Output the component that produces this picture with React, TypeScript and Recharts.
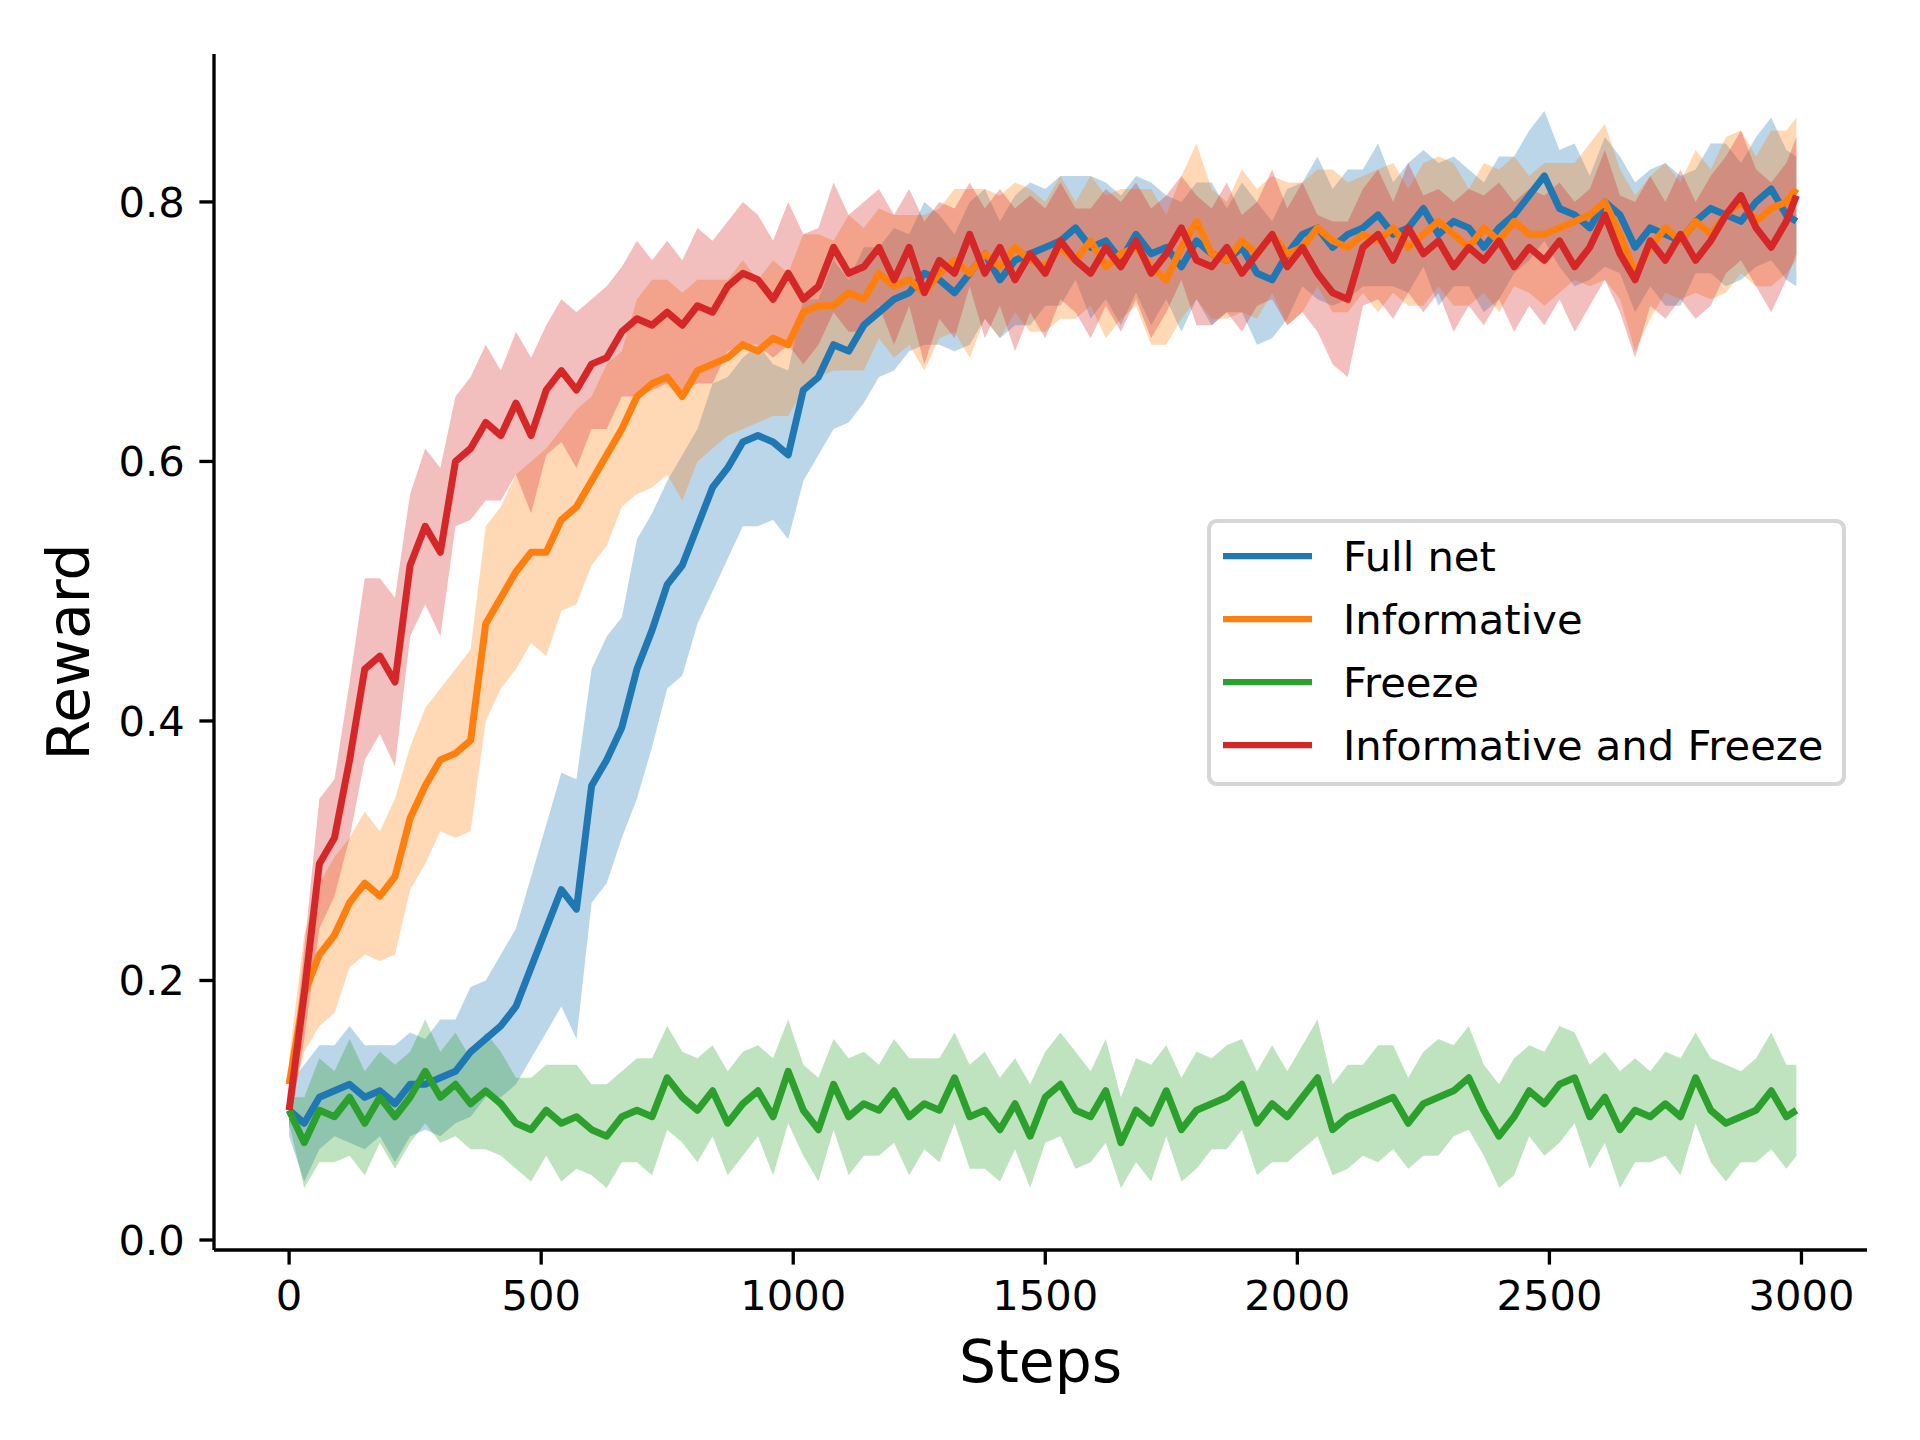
import React from 'react';
import { ComposedChart, Line, Area, XAxis, YAxis, Legend, Label } from 'recharts';

const steps = [
  0, 30, 60, 90, 120, 150, 180, 210, 240, 270,
  300, 330, 360, 390, 420, 450, 480, 510, 540, 570,
  600, 630, 660, 690, 720, 750, 780, 810, 840, 870,
  900, 930, 960, 990, 1020, 1050, 1080, 1110, 1140, 1170,
  1200, 1230, 1260, 1290, 1320, 1350, 1380, 1410, 1440, 1470,
  1500, 1530, 1560, 1590, 1620, 1650, 1680, 1710, 1740, 1770,
  1800, 1830, 1860, 1890, 1920, 1950, 1980, 2010, 2040, 2070,
  2100, 2130, 2160, 2190, 2220, 2250, 2280, 2310, 2340, 2370,
  2400, 2430, 2460, 2490, 2520, 2550, 2580, 2610, 2640, 2670,
  2700, 2730, 2760, 2790, 2820, 2850, 2880, 2910, 2940, 2970,
  2990,
];

const fullNet = [
  0.100, 0.090, 0.110, 0.115, 0.120, 0.110, 0.115, 0.105, 0.120, 0.120,
  0.125, 0.130, 0.145, 0.155, 0.165, 0.180, 0.210, 0.240, 0.270, 0.255,
  0.350, 0.370, 0.395, 0.440, 0.470, 0.505, 0.520, 0.550, 0.580, 0.595,
  0.615, 0.620, 0.615, 0.605, 0.655, 0.665, 0.690, 0.685, 0.705, 0.715,
  0.725, 0.730, 0.745, 0.740, 0.730, 0.745, 0.760, 0.740, 0.755, 0.760,
  0.765, 0.770, 0.780, 0.765, 0.770, 0.755, 0.775, 0.760, 0.765, 0.750,
  0.770, 0.760, 0.755, 0.765, 0.745, 0.740, 0.760, 0.775, 0.780, 0.765,
  0.775, 0.780, 0.790, 0.775, 0.780, 0.795, 0.775, 0.785, 0.780, 0.765,
  0.780, 0.790, 0.805, 0.820, 0.795, 0.790, 0.780, 0.800, 0.790, 0.765,
  0.780, 0.775, 0.770, 0.785, 0.795, 0.790, 0.785, 0.800, 0.810, 0.790,
  0.785,
];

const informative = [
  0.120, 0.190, 0.220, 0.235, 0.260, 0.275, 0.265, 0.280, 0.325, 0.350,
  0.370, 0.375, 0.385, 0.475, 0.495, 0.515, 0.530, 0.530, 0.555, 0.565,
  0.585, 0.605, 0.625, 0.650, 0.660, 0.665, 0.650, 0.670, 0.675, 0.680,
  0.690, 0.685, 0.695, 0.690, 0.715, 0.720, 0.720, 0.730, 0.725, 0.745,
  0.735, 0.740, 0.730, 0.745, 0.755, 0.745, 0.760, 0.750, 0.765, 0.755,
  0.750, 0.765, 0.755, 0.770, 0.750, 0.760, 0.765, 0.750, 0.740, 0.765,
  0.785, 0.760, 0.755, 0.770, 0.760, 0.775, 0.760, 0.765, 0.780, 0.770,
  0.765, 0.775, 0.770, 0.780, 0.765, 0.775, 0.785, 0.775, 0.765, 0.780,
  0.770, 0.785, 0.775, 0.775, 0.780, 0.785, 0.790, 0.800, 0.775, 0.745,
  0.765, 0.780, 0.770, 0.785, 0.775, 0.790, 0.800, 0.785, 0.795, 0.800,
  0.810,
];

const freeze = [
  0.100, 0.075, 0.100, 0.095, 0.110, 0.090, 0.110, 0.095, 0.110, 0.130,
  0.110, 0.120, 0.105, 0.115, 0.105, 0.090, 0.085, 0.100, 0.090, 0.095,
  0.085, 0.080, 0.095, 0.100, 0.095, 0.125, 0.110, 0.100, 0.115, 0.090,
  0.105, 0.115, 0.095, 0.130, 0.100, 0.085, 0.120, 0.095, 0.105, 0.100,
  0.115, 0.095, 0.105, 0.100, 0.125, 0.095, 0.100, 0.085, 0.105, 0.080,
  0.110, 0.120, 0.100, 0.095, 0.115, 0.075, 0.100, 0.090, 0.115, 0.085,
  0.100, 0.105, 0.110, 0.120, 0.090, 0.105, 0.095, 0.110, 0.125, 0.085,
  0.095, 0.100, 0.105, 0.110, 0.090, 0.105, 0.110, 0.115, 0.125, 0.100,
  0.080, 0.095, 0.115, 0.105, 0.120, 0.125, 0.095, 0.110, 0.085, 0.100,
  0.095, 0.105, 0.095, 0.125, 0.100, 0.090, 0.095, 0.100, 0.115, 0.095,
  0.100,
];

const informativeAndFreeze = [
  0.100, 0.190, 0.290, 0.310, 0.370, 0.440, 0.450, 0.430, 0.520, 0.550,
  0.530, 0.600, 0.610, 0.630, 0.620, 0.645, 0.620, 0.655, 0.670, 0.655,
  0.675, 0.680, 0.700, 0.710, 0.705, 0.715, 0.705, 0.720, 0.715, 0.735,
  0.745, 0.740, 0.725, 0.745, 0.725, 0.735, 0.765, 0.745, 0.750, 0.765,
  0.740, 0.765, 0.730, 0.755, 0.745, 0.775, 0.745, 0.765, 0.740, 0.760,
  0.745, 0.770, 0.755, 0.745, 0.765, 0.750, 0.770, 0.745, 0.760, 0.780,
  0.755, 0.750, 0.765, 0.745, 0.760, 0.775, 0.750, 0.765, 0.745, 0.730,
  0.725, 0.765, 0.775, 0.755, 0.780, 0.760, 0.770, 0.750, 0.765, 0.755,
  0.770, 0.750, 0.765, 0.755, 0.770, 0.750, 0.765, 0.790, 0.760, 0.740,
  0.770, 0.755, 0.775, 0.755, 0.770, 0.790, 0.805, 0.780, 0.765, 0.785,
  0.805,
];

// half-width of the shaded band around each mean
const fullNetSpread = [
  0.020, 0.045, 0.040, 0.035, 0.045, 0.040, 0.035, 0.045, 0.040, 0.035,
  0.045, 0.040, 0.050, 0.045, 0.055, 0.060, 0.070, 0.080, 0.090, 0.100,
  0.090, 0.095, 0.085, 0.100, 0.090, 0.080, 0.085, 0.075, 0.080, 0.070,
  0.065, 0.070, 0.060, 0.065, 0.070, 0.060, 0.065, 0.055, 0.060, 0.050,
  0.055, 0.045, 0.055, 0.050, 0.045, 0.055, 0.050, 0.045, 0.050, 0.055,
  0.045, 0.050, 0.040, 0.055, 0.045, 0.050, 0.045, 0.055, 0.040, 0.050,
  0.045, 0.055, 0.040, 0.050, 0.055, 0.045, 0.050, 0.040, 0.055, 0.045,
  0.050, 0.045, 0.055, 0.040, 0.050, 0.045, 0.055, 0.050, 0.045, 0.050,
  0.055, 0.045, 0.050, 0.050, 0.045, 0.055, 0.040, 0.050, 0.045, 0.050,
  0.045, 0.055, 0.050, 0.040, 0.050, 0.055, 0.045, 0.050, 0.055, 0.050,
  0.050,
];

const informativeSpread = [
  0.020, 0.045, 0.055, 0.060, 0.050, 0.055, 0.050, 0.060, 0.055, 0.060,
  0.055, 0.065, 0.070, 0.075, 0.070, 0.075, 0.070, 0.080, 0.070, 0.075,
  0.065, 0.070, 0.060, 0.075, 0.080, 0.075, 0.080, 0.070, 0.065, 0.060,
  0.065, 0.055, 0.060, 0.055, 0.060, 0.055, 0.050, 0.060, 0.055, 0.050,
  0.055, 0.050, 0.060, 0.050, 0.055, 0.065, 0.050, 0.055, 0.050, 0.055,
  0.050, 0.055, 0.045, 0.050, 0.055, 0.050, 0.045, 0.060, 0.050, 0.055,
  0.060, 0.050, 0.045, 0.055, 0.050, 0.045, 0.055, 0.050, 0.045, 0.055,
  0.050, 0.045, 0.055, 0.050, 0.045, 0.055, 0.050, 0.055, 0.045, 0.050,
  0.055, 0.050, 0.045, 0.055, 0.050, 0.045, 0.055, 0.060, 0.050, 0.060,
  0.055, 0.050, 0.045, 0.055, 0.050, 0.060, 0.055, 0.050, 0.060, 0.055,
  0.055,
];

const freezeSpread = [
  0.010, 0.035, 0.040, 0.035, 0.045, 0.040, 0.035, 0.040, 0.035, 0.040,
  0.035, 0.040, 0.035, 0.045, 0.040, 0.035, 0.040, 0.035, 0.045, 0.040,
  0.035, 0.040, 0.035, 0.040, 0.045, 0.040, 0.035, 0.040, 0.035, 0.040,
  0.040, 0.035, 0.045, 0.040, 0.035, 0.040, 0.035, 0.045, 0.040, 0.035,
  0.040, 0.045, 0.035, 0.040, 0.035, 0.040, 0.045, 0.040, 0.035, 0.040,
  0.035, 0.040, 0.045, 0.035, 0.040, 0.035, 0.040, 0.045, 0.035, 0.040,
  0.045, 0.035, 0.040, 0.035, 0.040, 0.045, 0.035, 0.040, 0.045, 0.035,
  0.040, 0.035, 0.045, 0.040, 0.035, 0.040, 0.045, 0.035, 0.040, 0.035,
  0.040, 0.045, 0.035, 0.040, 0.045, 0.035, 0.040, 0.035, 0.045, 0.040,
  0.035, 0.040, 0.045, 0.035, 0.040, 0.045, 0.035, 0.040, 0.045, 0.040,
  0.035,
];

const informativeAndFreezeSpread = [
  0.015, 0.035, 0.050, 0.045, 0.060, 0.070, 0.060, 0.065, 0.055, 0.060,
  0.065, 0.050, 0.055, 0.060, 0.050, 0.055, 0.060, 0.050, 0.055, 0.060,
  0.050, 0.055, 0.050, 0.060, 0.050, 0.055, 0.050, 0.060, 0.055, 0.050,
  0.055, 0.050, 0.045, 0.055, 0.050, 0.045, 0.050, 0.045, 0.050, 0.045,
  0.050, 0.045, 0.055, 0.045, 0.050, 0.040, 0.050, 0.045, 0.055, 0.045,
  0.050, 0.045, 0.040, 0.050, 0.045, 0.050, 0.045, 0.050, 0.045, 0.040,
  0.050, 0.045, 0.050, 0.045, 0.040, 0.050, 0.045, 0.050, 0.045, 0.055,
  0.060, 0.045, 0.050, 0.045, 0.050, 0.045, 0.040, 0.050, 0.045, 0.050,
  0.045, 0.050, 0.045, 0.050, 0.045, 0.050, 0.045, 0.050, 0.045, 0.060,
  0.050, 0.045, 0.050, 0.045, 0.050, 0.045, 0.050, 0.045, 0.050, 0.045,
  0.045,
];

const xTicks = [0, 500, 1000, 1500, 2000, 2500, 3000];
const yTicks = [0, 0.2, 0.4, 0.6, 0.8];

const seriesNames = ['Full net', 'Informative', 'Freeze', 'Informative and Freeze'];
const seriesKeys = ['fullNet', 'informative', 'freeze', 'informativeAndFreeze'];
const seriesColors = ['#1f77b4', '#ff7f0e', '#2ca02c', '#d62728'];
const seriesMeans = [fullNet, informative, freeze, informativeAndFreeze];
const seriesSpreads = [fullNetSpread, informativeSpread, freezeSpread, informativeAndFreezeSpread];

const data = steps.map((step, i) => {
  const row: Record<string, any> = { step };
  seriesKeys.forEach((k, s) => {
    const m = seriesMeans[s][i];
    const d = seriesSpreads[s][i];
    row[k] = m;
    row[k + 'Band'] = [m - d, m + d];
  });
  return row;
});

const FONT = 'DejaVu Sans';
const TICK_FS = 41.67;
const LABEL_FS = 58.33;
const LW = 7;
const AXW = 3.33;

const LegendBox = () => (
  <svg width={639} height={267} style={{ display: 'block' }}>
    <rect x={2} y={2} width={635} height={263} rx={8} ry={8} fill="#ffffff" fillOpacity={0.8} stroke="#d6d6d6" strokeWidth={4.17} />
    {seriesNames.map((name, i) => {
      const cy = 37 + 63 * i;
      return (
        <g key={name}>
          <line x1={16} x2={105} y1={cy} y2={cy} stroke={seriesColors[i]} strokeWidth={6.25} />
          <text x={136} y={cy + 15.2} fontSize={TICK_FS} fontFamily={FONT} fill="#000">{name}</text>
        </g>
      );
    })}
  </svg>
);

const XLabel = () => (
  <text x={1040.5} y={1382} textAnchor="middle" fontSize={LABEL_FS} fontFamily={FONT} fill="#000">Steps</text>
);

const YLabel = () => (
  <text x={89} y={652} transform="rotate(-90, 89, 652)" textAnchor="middle" fontSize={LABEL_FS} fontFamily={FONT} fill="#000">Reward</text>
);

export default function App() {
  return (
    <div style={{ position: 'absolute', left: 0, top: 0, width: 1920, height: 1440, background: '#fff' }}>
      <ComposedChart width={1920} height={1440} data={data} margin={{ top: 54, right: 53, bottom: 0, left: 0 }}>
        <XAxis
          dataKey="step"
          type="number"
          domain={[-149, 3130]}
          allowDataOverflow
          ticks={xTicks}
          height={190}
          tickSize={14.6}
          tickMargin={16}
          axisLine={{ stroke: '#000', strokeWidth: AXW }}
          tickLine={{ stroke: '#000', strokeWidth: AXW }}
          tick={{ fill: '#000', fontSize: TICK_FS, fontFamily: FONT }}
        >
          <Label content={XLabel} />
        </XAxis>
        <YAxis
          type="number"
          domain={[-0.0077, 0.914]}
          allowDataOverflow
          ticks={yTicks}
          width={214}
          tickSize={14.6}
          tickMargin={14.6}
          tickFormatter={(v: number) => v.toFixed(1)}
          axisLine={{ stroke: '#000', strokeWidth: AXW }}
          tickLine={{ stroke: '#000', strokeWidth: AXW }}
          tick={{ fill: '#000', fontSize: TICK_FS, fontFamily: FONT }}
        >
          <Label content={YLabel} />
        </YAxis>
        {seriesKeys.map((k, i) => (
          <Area
            key={k + 'Band'}
            dataKey={k + 'Band'}
            type="linear"
            fill={seriesColors[i]}
            fillOpacity={0.3}
            stroke="none"
            dot={false}
            activeDot={false}
            legendType="none"
            isAnimationActive={false}
          />
        ))}
        {seriesKeys.map((k, i) => (
          <Line
            key={k}
            dataKey={k}
            name={seriesNames[i]}
            type="linear"
            stroke={seriesColors[i]}
            strokeWidth={LW}
            strokeLinejoin="round"
            dot={false}
            activeDot={false}
            isAnimationActive={false}
          />
        ))}
        <Legend
          layout="vertical"
          align="center"
          verticalAlign="middle"
          content={LegendBox}
          wrapperStyle={{ position: 'absolute', left: 1207, top: 519, width: 639, height: 267 }}
        />
      </ComposedChart>
    </div>
  );
}
